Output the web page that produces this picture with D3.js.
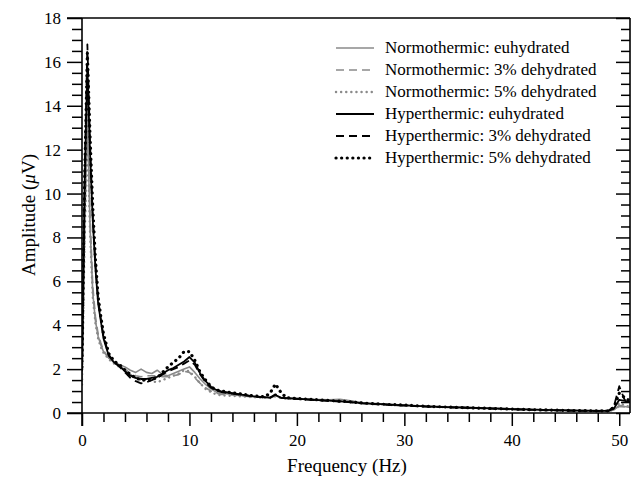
<!DOCTYPE html>
<html>
<head>
<meta charset="utf-8">
<script src="https://cdn.jsdelivr.net/npm/d3@7"></script>
<style>
    body { margin: 0; background: #fff; }
    svg text { font-family: "Liberation Serif", "Times New Roman", serif; fill: #000; }
</style>
</head>
<body>
<div id="chart"></div>
<script>
//frequency samples (Hz)
var freq = [0, 0.25, 0.5, 0.75, 1, 1.25, 1.5, 1.75, 2, 2.5, 3, 3.5, 4, 4.5, 5, 5.5, 6, 6.5, 7, 7.5,
    8, 8.5, 9, 9.5, 10, 10.5, 11, 11.5, 12, 12.5, 13, 14, 15, 16, 17, 17.5, 18, 18.5, 19, 20,
    21, 22, 23, 24, 25, 26, 27, 28, 29, 30, 32, 34, 36, 38, 40, 42, 44, 46, 48, 49,
    49.5, 50, 50.5, 51];

//amplitudes (uV), one list per condition
var normoEu = [1.5, 8.5, 13.5, 8.5, 5.5, 4.2, 3.5, 3.1, 2.8, 2.5, 2.3, 2.2, 2.1, 1.95, 1.85, 2.0, 1.85, 1.8, 1.95, 1.75,
    1.7, 1.8, 1.9, 2.0, 2.1, 1.85, 1.55, 1.3, 1.1, 0.95, 0.9, 0.84, 0.79, 0.74, 0.71, 0.7, 0.8, 0.7, 0.68, 0.66,
    0.63, 0.61, 0.6, 0.62, 0.56, 0.48, 0.44, 0.41, 0.38, 0.36, 0.31, 0.28, 0.25, 0.22, 0.19, 0.16, 0.14, 0.12, 0.11, 0.1,
    0.14, 0.35, 0.3, 0.25];
var normo3 = [1.4, 9.0, 14.5, 9.0, 5.8, 4.4, 3.6, 3.2, 2.85, 2.5, 2.3, 2.15, 2.0, 1.8, 1.7, 1.65, 1.7, 1.7, 1.7, 1.65,
    1.65, 1.7, 1.75, 1.9, 1.85, 1.6, 1.35, 1.15, 1.0, 0.9, 0.85, 0.82, 0.78, 0.73, 0.7, 0.69, 0.78, 0.69, 0.67, 0.65,
    0.62, 0.6, 0.58, 0.58, 0.54, 0.47, 0.43, 0.4, 0.37, 0.35, 0.3, 0.27, 0.24, 0.21, 0.18, 0.15, 0.13, 0.12, 0.1, 0.1,
    0.13, 0.3, 0.28, 0.22];
var normo5 = [1.3, 8.0, 12.8, 8.2, 5.3, 4.1, 3.4, 3.0, 2.75, 2.45, 2.25, 2.1, 1.95, 1.75, 1.6, 1.5, 1.5, 1.45, 1.4, 1.5,
    1.6, 1.7, 1.8, 1.95, 1.9, 1.65, 1.35, 1.1, 0.95, 0.85, 0.8, 0.78, 0.75, 0.72, 0.69, 0.68, 0.76, 0.68, 0.66, 0.64,
    0.61, 0.59, 0.57, 0.59, 0.53, 0.46, 0.42, 0.39, 0.36, 0.34, 0.3, 0.26, 0.23, 0.2, 0.17, 0.15, 0.13, 0.11, 0.1, 0.1,
    0.15, 0.45, 0.35, 0.28];
var hyperEu = [2.0, 10.5, 15.8, 11.8, 8.8, 6.6, 5.0, 4.2, 3.4, 2.6, 2.3, 2.15, 1.9, 1.7, 1.6, 1.55, 1.55, 1.6, 1.65, 1.8,
    1.95, 2.05, 2.2, 2.35, 2.55, 2.3, 1.8, 1.45, 1.2, 1.05, 0.98, 0.9, 0.83, 0.76, 0.72, 0.7, 0.82, 0.7, 0.68, 0.65,
    0.62, 0.59, 0.56, 0.53, 0.5, 0.45, 0.42, 0.4, 0.37, 0.35, 0.3, 0.27, 0.24, 0.21, 0.18, 0.15, 0.13, 0.11, 0.1, 0.1,
    0.2, 0.6, 0.55, 0.5];
var hyper3 = [1.9, 11.0, 16.8, 12.3, 9.0, 6.8, 5.2, 4.3, 3.5, 2.65, 2.3, 2.1, 1.85, 1.6, 1.45, 1.35, 1.4, 1.5, 1.6, 1.75,
    1.9, 2.0, 2.1, 2.25, 2.4, 2.2, 1.75, 1.4, 1.15, 1.05, 0.95, 0.88, 0.82, 0.75, 0.71, 0.69, 0.85, 0.69, 0.67, 0.64,
    0.61, 0.58, 0.55, 0.52, 0.49, 0.44, 0.41, 0.39, 0.36, 0.34, 0.29, 0.26, 0.23, 0.2, 0.17, 0.14, 0.12, 0.1, 0.09, 0.1,
    0.3, 1.22, 0.6, 0.45];
var hyper5 = [2.1, 10.8, 16.4, 12.6, 9.4, 7.0, 5.3, 4.4, 3.6, 2.7, 2.35, 2.2, 1.95, 1.75, 1.6, 1.5, 1.5, 1.55, 1.6, 1.85,
    2.1, 2.3, 2.5, 2.8, 2.8, 2.4, 1.85, 1.5, 1.2, 1.05, 1.0, 0.92, 0.85, 0.78, 0.74, 0.9, 1.32, 0.95, 0.7, 0.66,
    0.63, 0.6, 0.57, 0.54, 0.51, 0.46, 0.43, 0.4, 0.38, 0.36, 0.31, 0.27, 0.24, 0.21, 0.18, 0.15, 0.13, 0.11, 0.1, 0.1,
    0.25, 0.9, 0.7, 0.55];

var seriesNames = ["Normothermic: euhydrated", "Normothermic: 3% dehydrated", "Normothermic: 5% dehydrated",
    "Hyperthermic: euhydrated", "Hyperthermic: 3% dehydrated", "Hyperthermic: 5% dehydrated"];
var seriesValues = [normoEu, normo3, normo5, hyperEu, hyper3, hyper5];

var xTicks = [0, 10, 20, 30, 40, 50];
var yTicks = [0, 2, 4, 6, 8, 10, 12, 14, 16, 18];

(function(){
    var width = 638, height = 484;
    var left = 82, right = 630, top = 18, bottom = 413;

    //line styles per series
    var styles = [
        {color: "#8a8a8a", w: 1.6, dash: null, cap: "butt"},
        {color: "#8a8a8a", w: 1.6, dash: "8,5", cap: "butt"},
        {color: "#8a8a8a", w: 2.4, dash: "0.1,5", cap: "round"},
        {color: "#000", w: 1.8, dash: null, cap: "butt"},
        {color: "#000", w: 1.8, dash: "8,5", cap: "butt"},
        {color: "#000", w: 3.2, dash: "0.1,5.5", cap: "round"}
    ];

    var svg = d3.select("#chart").append("svg")
        .attr("width", width)
        .attr("height", height);

    var x = d3.scaleLinear().domain([0, 51]).range([left, right]);
    var y = d3.scaleLinear().domain([0, 18]).range([bottom, top]);

    //clip so lines stay in the frame
    svg.append("clipPath").attr("id", "clip")
        .append("rect")
        .attr("x", left).attr("y", top)
        .attr("width", right - left).attr("height", bottom - top);

    var line = d3.line()
        .x(function(d){ return x(d[0]); })
        .y(function(d){ return y(d[1]); });

    var plot = svg.append("g").attr("clip-path", "url(#clip)");
    seriesValues.forEach(function(vals, i){
        var pts = freq.map(function(f, j){ return [f, vals[j]]; });
        var st = styles[i];
        plot.append("path")
            .datum(pts)
            .attr("d", line)
            .attr("fill", "none")
            .attr("stroke", st.color)
            .attr("stroke-width", st.w)
            .attr("stroke-linecap", st.cap)
            .attr("stroke-linejoin", "round")
            .attr("stroke-dasharray", st.dash);
    });

    //bottom axis: major every 10, minor every 2, ticks outside
    var xAxis = svg.append("g")
        .attr("transform", "translate(0," + bottom + ")")
        .call(d3.axisBottom(x).tickValues(d3.range(0, 51, 2)).tickSize(9).tickFormat(""));
    xAxis.selectAll(".tick").filter(function(d){ return d % 10 === 0; })
        .select("line").attr("y2", 13);
    xAxis.select(".domain").remove();
    svg.append("g")
        .attr("transform", "translate(0," + bottom + ")")
        .call(d3.axisBottom(x).tickValues(xTicks).tickSize(0).tickPadding(21))
        .call(function(g){ g.select(".domain").remove(); })
        .selectAll("text").style("font-size", "17px");

    //left axis: major every 2, minor every 0.5
    var yAxis = svg.append("g")
        .attr("transform", "translate(" + left + ",0)")
        .call(d3.axisLeft(y).tickValues(d3.range(0, 18.01, 0.5)).tickSize(10).tickFormat(""));
    yAxis.selectAll(".tick").filter(function(d){ return d % 2 === 0; })
        .select("line").attr("x2", -15);
    yAxis.select(".domain").remove();
    svg.append("g")
        .attr("transform", "translate(" + left + ",0)")
        .call(d3.axisLeft(y).tickValues(yTicks).tickSize(0).tickPadding(21))
        .call(function(g){ g.select(".domain").remove(); })
        .selectAll("text").style("font-size", "17px");

    //right axis: ticks point inward
    var rAxis = svg.append("g")
        .attr("transform", "translate(" + right + ",0)")
        .call(d3.axisLeft(y).tickValues(d3.range(0, 18.01, 0.5)).tickSize(-0).tickFormat(""));
    rAxis.select(".domain").remove();
    rAxis.selectAll(".tick line").attr("x2", function(d){ return d % 2 === 0 ? -14 : -9; });

    svg.selectAll(".tick line").attr("stroke", "#000").attr("stroke-width", 1.5);

    //frame lines
    var frame = svg.append("g").attr("stroke", "#000").attr("stroke-width", 1.6);
    frame.append("line").attr("x1", left - 15).attr("x2", right).attr("y1", top).attr("y2", top);
    frame.append("line").attr("x1", left - 15).attr("x2", right).attr("y1", bottom).attr("y2", bottom);
    frame.append("line").attr("x1", left).attr("x2", left).attr("y1", top).attr("y2", bottom + 13);
    frame.append("line").attr("x1", right).attr("x2", right).attr("y1", top).attr("y2", bottom);

    //axis titles
    svg.append("text")
        .attr("x", (left + right) / 2 - 9)
        .attr("y", 472)
        .attr("text-anchor", "middle")
        .style("font-size", "19px")
        .text("Frequency (Hz)");

    var yt = svg.append("text")
        .attr("transform", "translate(35,215) rotate(-90)")
        .attr("text-anchor", "middle")
        .style("font-size", "19px");
    yt.append("tspan").text("Amplitude (");
    yt.append("tspan").style("font-style", "italic").text("\u03bc");
    yt.append("tspan").text("V)");

    //legend
    var legend = svg.append("g");
    seriesNames.forEach(function(name, i){
        var yy = 48 + i * 22;
        var st = styles[i];
        legend.append("line")
            .attr("x1", 336).attr("x2", 374)
            .attr("y1", yy).attr("y2", yy)
            .attr("stroke", st.color)
            .attr("stroke-width", st.w)
            .attr("stroke-linecap", st.cap)
            .attr("stroke-dasharray", st.dash);
        legend.append("text")
            .attr("x", 385)
            .attr("y", yy + 5)
            .style("font-size", "17px")
            .text(name);
    });
})();
</script>
</body>
</html>
